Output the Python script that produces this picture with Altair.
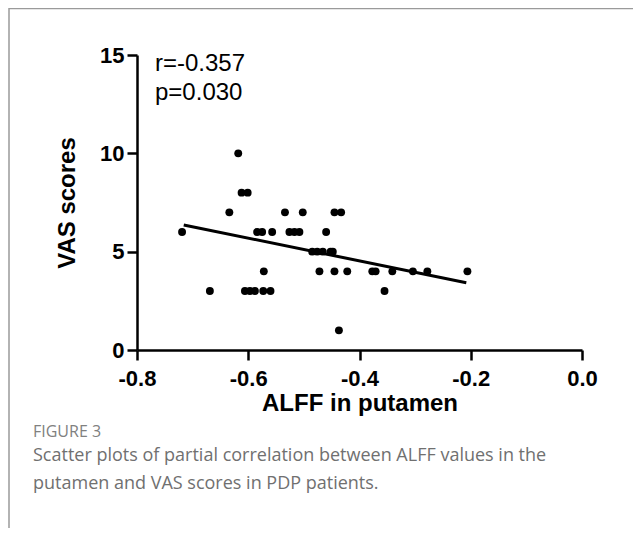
import altair as alt
import pandas as pd

# ALFF values in putamen (x) and VAS scores (y)
alff = [-0.719, -0.669, -0.618, -0.612, -0.601, -0.634, -0.584, -0.575, -0.557,
        -0.534, -0.502, -0.526, -0.517, -0.508, -0.572, -0.606, -0.597, -0.588,
        -0.573, -0.560, -0.445, -0.433, -0.460, -0.485, -0.476, -0.466, -0.452,
        -0.448, -0.472, -0.445, -0.422, -0.377, -0.371, -0.341, -0.304, -0.278,
        -0.206, -0.355, -0.437]
vas = [6, 3, 10, 8, 8, 7, 6, 6, 6,
       7, 7, 6, 6, 6, 4, 3, 3, 3,
       3, 3, 7, 7, 6, 5, 5, 5, 5,
       5, 4, 4, 4, 4, 4, 4, 4, 4,
       4, 3, 1]

# fitted line end points
fit_x = [-0.716, -0.208]
fit_y = [6.36, 3.42]

x_ticks = [-0.8, -0.6, -0.4, -0.2, 0.0]
y_ticks = [0, 5, 10, 15]

stats_text = ["r=-0.357", "p=0.030"]
fig_label = "FIGURE 3"
caption_lines = ["Scatter plots of partial correlation between ALFF values in the",
                 "putamen and VAS scores in PDP patients."]

pts = pd.DataFrame({"alff": alff, "vas": vas})
fit = pd.DataFrame({"alff": fit_x, "vas": fit_y})

FONT = "Liberation Sans"

xscale = alt.Scale(domain=[-0.8, 0.0], nice=False, zero=False)
yscale = alt.Scale(domain=[0, 15], nice=False)

xaxis = alt.Axis(values=x_ticks, title="ALFF in putamen",
                 labelExpr="replace(format(datum.value, '.1f'), '\u2212', '-')",
                 grid=False, domainColor="black", domainWidth=2.5,
                 tickColor="black", tickWidth=2.5, tickSize=10,
                 labelFlush=False, labelOverlap=False,
                 labelFont=FONT, labelFontSize=22, labelFontWeight="bold",
                 labelColor="black", labelPadding=8,
                 titleFont=FONT, titleFontSize=24, titleFontWeight="bold",
                 titleColor="black", titlePadding=2)
yaxis = alt.Axis(values=y_ticks, title="VAS scores", format="d",
                 grid=False, domainColor="black", domainWidth=2.5,
                 tickColor="black", tickWidth=2.5, tickSize=10,
                 labelFlush=False, labelOverlap=False,
                 labelFont=FONT, labelFontSize=22, labelFontWeight="bold",
                 labelColor="black", labelPadding=3,
                 titleFont=FONT, titleFontSize=24, titleFontWeight="bold",
                 titleColor="black", titlePadding=20)

points = alt.Chart(pts).mark_circle(size=62, color="black", opacity=1).encode(
    x=alt.X("alff:Q", scale=xscale, axis=xaxis),
    y=alt.Y("vas:Q", scale=yscale, axis=yaxis),
)

line = alt.Chart(fit).mark_line(color="black", strokeWidth=3).encode(
    x=alt.X("alff:Q", scale=xscale),
    y=alt.Y("vas:Q", scale=yscale),
)


def text_layer(txt, x, y, font, size, color):
    return alt.Chart(pd.DataFrame({"t": [txt]})).mark_text(
        font=font, fontSize=size, align="left", baseline="middle", color=color
    ).encode(text="t:N", x=alt.value(x), y=alt.value(y))


stats1 = text_layer(stats_text[0], 18, 9, FONT, 24, "black")
stats2 = text_layer(stats_text[1], 18, 38, FONT, 24, "black")
figlab = text_layer(fig_label, -104, 377, "Open Sans", 16, "#808080")
cap1 = text_layer(caption_lines[0], -104, 401, "Open Sans", 18, "#707070")
cap2 = text_layer(caption_lines[1], -104, 429, "Open Sans", 18, "#707070")

frame_top = alt.Chart(pd.DataFrame({"k": [0]})).mark_rule(
    color="#9a9a9a", strokeWidth=1.5
).encode(x=alt.value(-128), x2=alt.value(500), y=alt.value(-46.5))
frame_left = alt.Chart(pd.DataFrame({"k": [0]})).mark_rule(
    color="#9a9a9a", strokeWidth=1.5
).encode(x=alt.value(-128), y=alt.value(-47), y2=alt.value(480))

chart = alt.layer(
    frame_top, frame_left, line, points, stats1, stats2, figlab, cap1, cap2
).properties(
    width=445, height=295,
    autosize=alt.AutoSizeParams(type="none"),
    padding={"left": 129, "top": 47, "right": 51, "bottom": 178},
).configure_view(stroke=None)

chart.save("out.html", embed_options={"renderer": "svg", "actions": False})
